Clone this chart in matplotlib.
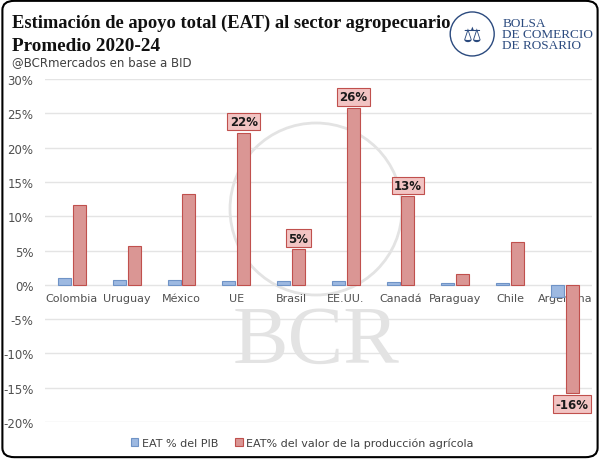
import matplotlib.pyplot as plt
import numpy as np
from matplotlib.patches import FancyBboxPatch, Circle, Ellipse

# Data
paises = ["Colombia", "Uruguay", "México", "UE", "Brasil", "EE.UU.",
          "Canadá", "Paraguay", "Chile", "Argentina"]
eat_pib = [1.0, 0.7, 0.7, 0.6, 0.6, 0.5, 0.4, 0.3, 0.2, -1.8]
eat_valor = [11.6, 5.7, 13.2, 22.2, 5.2, 25.8, 12.9, 1.6, 6.3, -15.8]
etiquetas = {3: "22%", 4: "5%", 5: "26%", 6: "13%", 9: "-16%"}

azul, azul_borde = "#9DB9E1", "#6F93C6"
rojo, rojo_borde = "#DA9694", "#C0504D"

fig = plt.figure(figsize=(6, 4.6), dpi=100)

# rounded border
fig.patches.append(FancyBboxPatch((0.004, 0.004), 0.992, 0.992,
                                  boxstyle="round,pad=0,rounding_size=0.02",
                                  transform=fig.transFigure, fill=False,
                                  edgecolor="black", linewidth=1.5))

ax = fig.add_axes([0.0743, 0.0804, 0.9127, 0.7456])

# watermark
ax.add_patch(Circle((316, 250), 86, transform=None, fill=False,
                    edgecolor="#E3E3E3", linewidth=2, zorder=0))
fig.text(0.527, 0.255, "BCR", fontsize=60, family="Liberation Serif",
         color="#E3E3E3", ha="center", va="center", zorder=0)

x = np.arange(len(paises))
w = 0.24
ax.bar(x - 0.135, eat_pib, w, color=azul, edgecolor=azul_borde,
       linewidth=0.8, label="EAT % del PIB", zorder=3)
ax.bar(x + 0.135, eat_valor, w, color=rojo, edgecolor=rojo_borde,
       linewidth=0.8, label="EAT% del valor de la producción agrícola",
       zorder=3)

for i, txt in etiquetas.items():
    v = eat_valor[i]
    off = 1.6 if v > 0 else -1.6
    ax.text(x[i] + 0.135, v + off, txt, ha="center", va="center",
            fontsize=8.5, fontweight="bold", color="#1a1a1a", zorder=4,
            bbox=dict(boxstyle="square,pad=0.2", facecolor="#F2C4C3",
                      edgecolor=rojo_borde, linewidth=0.8))

ax.set_xlim(-0.5, len(paises) - 0.5)
ax.set_ylim(-20, 30)
ax.set_yticks(np.arange(-20, 31, 5))
ax.set_yticklabels([f"{t}%" for t in range(-20, 31, 5)])
ax.yaxis.grid(True, color="#E4E4E4", linewidth=1, zorder=0)
ax.set_axisbelow(True)
for s in ax.spines.values():
    s.set_visible(False)
ax.spines["bottom"].set_position(("data", 0))
ax.set_xticks(x)
ax.set_xticklabels(paises)
ax.tick_params(axis="both", length=0, labelsize=8.5, labelcolor="#505050")
ax.tick_params(axis="x", pad=6, labelsize=8)
ax.tick_params(axis="y", pad=8)

ax.legend(loc="upper center", bbox_to_anchor=(0.47, -0.015), ncol=2,
          frameon=False, fontsize=8, handlelength=0.7, handleheight=0.7,
          columnspacing=1.5, handletextpad=0.3, labelcolor="#404040")

# titles
fig.text(0.02, 0.94, "Estimación de apoyo total (EAT) al sector agropecuario",
         fontsize=13.3, fontweight="bold", family="Liberation Serif",
         color="#111111", va="baseline")
fig.text(0.02, 0.89, "Promedio 2020-24", fontsize=13.8, fontweight="bold",
         family="Liberation Serif", color="#111111", va="baseline")
fig.text(0.02, 0.857, "@BCRmercados en base a BID", fontsize=8.5,
         color="#404040", va="baseline")

# logo
fig.patches.append(Ellipse((0.787, 0.924), 44 / 600, 44 / 460,
                           transform=fig.transFigure, fill=False,
                           edgecolor="#2B4A7E", linewidth=1))
fig.text(0.787, 0.922, "⚖", fontsize=15, color="#2B4A7E", ha="center",
         va="center")
fig.text(0.837, 0.924, "BOLSA\nDE COMERCIO\nDE ROSARIO", fontsize=9.5,
         family="Liberation Serif", color="#2B4A7E", va="center",
         linespacing=0.9)

plt.savefig("out.png", dpi=100)
